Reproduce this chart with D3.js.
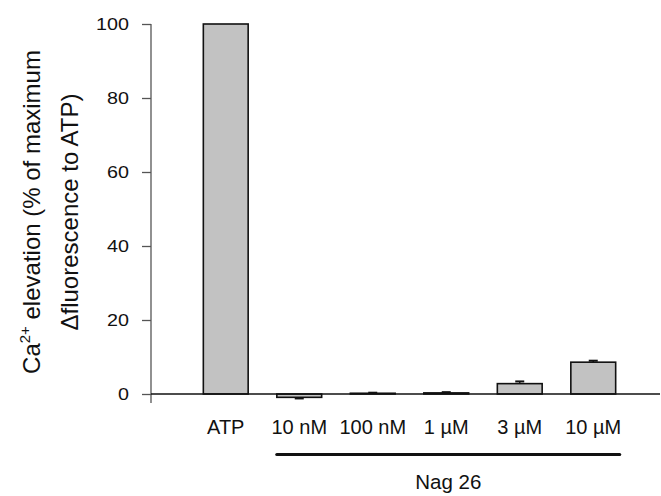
<!DOCTYPE html>
<html>
<head>
<meta charset="utf-8">
<script src="https://cdn.jsdelivr.net/npm/d3@7"></script>
<style>
  body { margin: 0; background: #fff; }
  svg { font-family: Arial, "Liberation Sans", sans-serif; }
</style>
</head>
<body>
<div class="svg-div"></div>
<script>
// values
var categories = ["ATP", "10 nM", "100 nM", "1 µM", "3 µM", "10 µM"]
var means = [100, -0.9, 0.2, 0.3, 2.8, 8.6]
var errs = [0, 0.3, 0.15, 0.2, 0.6, 0.4]
var yTicks = [0, 20, 40, 60, 80, 100]
var groupLabel = "Nag 26"
var groupMembers = ["10 nM", "100 nM", "1 µM", "3 µM", "10 µM"]

var width = 661, height = 496
var svg = d3.select(".svg-div").append("svg")
    .attr("width", width)
    .attr("height", height)

// the original text is a bit stretched sideways
function stretchText(sel, sx) {
    sel.each(function() {
        var t = d3.select(this)
        var x = +t.attr("x") || 0, y = +t.attr("y") || 0
        t.attr("transform", "translate(" + x + "," + y + ") scale(" + sx + ",1)")
            .attr("x", 0).attr("y", 0)
    })
}

var axisX = 151
var yScale = d3.scaleLinear().domain([0, 100]).range([394, 24])
var xScale = d3.scaleBand()
    .domain(categories)
    .range([189, 630])
    .paddingInner(0.39)
    .paddingOuter(0.195)

// y axis
var gy = svg.append("g").attr("transform", "translate(" + axisX + ",0)")
gy.call(d3.axisLeft(yScale).tickValues(yTicks).tickSize(9).tickPadding(13))
gy.select(".domain").remove()
gy.append("line")
    .attr("x1", 0).attr("x2", 0)
    .attr("y1", yScale(100)).attr("y2", yScale(0) + 9)
    .attr("stroke", "#555").attr("stroke-width", 1.3)
gy.selectAll(".tick line").attr("stroke", "#555").attr("stroke-width", 1.3)
var tickText = gy.selectAll(".tick text").attr("font-size", 17).attr("fill", "#111")
    .attr("font-family", "Arial, 'Liberation Sans', sans-serif")
stretchText(tickText, 1.16)

// bars
var bw = xScale.bandwidth()
svg.append("g").selectAll("rect")
    .data(categories)
    .join("rect")
    .attr("x", d => xScale(d))
    .attr("width", bw)
    .attr("y", (d, i) => Math.min(yScale(means[i]), yScale(0)))
    .attr("height", (d, i) => Math.abs(yScale(means[i]) - yScale(0)))
    .attr("fill", "#c2c2c2")
    .attr("stroke", "#111")
    .attr("stroke-width", 1.6)

// error bars (one-sided, away from zero)
var eg = svg.append("g").attr("stroke", "#111").attr("stroke-width", 1.4)
categories.forEach(function(c, i) {
    if (errs[i] <= 0) return
    var cx = xScale(c) + bw / 2
    var tip = means[i] >= 0 ? means[i] + errs[i] : means[i] - errs[i]
    eg.append("line").attr("x1", cx).attr("x2", cx)
        .attr("y1", yScale(means[i])).attr("y2", yScale(tip))
    eg.append("line").attr("x1", cx - 4.5).attr("x2", cx + 4.5)
        .attr("y1", yScale(tip)).attr("y2", yScale(tip))
        .attr("stroke-width", 2)
})

// x axis line
svg.append("line")
    .attr("x1", axisX).attr("x2", 660)
    .attr("y1", yScale(0)).attr("y2", yScale(0))
    .attr("stroke", "#111").attr("stroke-width", 1.6)

// category labels
svg.append("g").selectAll("text")
    .data(categories)
    .join("text")
    .attr("x", d => xScale(d) + bw / 2)
    .attr("y", 434)
    .attr("text-anchor", "middle")
    .attr("font-size", 20)
    .attr("fill", "#111")
    .text(d => d)

// group bracket
var gx1 = xScale(groupMembers[0]), gx2 = xScale(groupMembers[groupMembers.length - 1]) + bw
svg.append("line")
    .attr("x1", gx1).attr("x2", gx2 + 4)
    .attr("y1", 454.5).attr("y2", 454.5)
    .attr("stroke", "#111").attr("stroke-width", 3.2)
    .attr("stroke-linecap", "round")
svg.append("text")
    .attr("x", (gx1 + gx2) / 2 + 2)
    .attr("y", 489)
    .attr("text-anchor", "middle")
    .attr("font-size", 20.5)
    .attr("fill", "#111")
    .text(groupLabel)

// y label, two lines
var yl = svg.append("text")
    .attr("transform", "translate(0,212) rotate(-90)")
    .attr("text-anchor", "middle")
    .attr("font-size", 24)
    .attr("fill", "#111")
var l1 = yl.append("tspan").attr("x", 0).attr("y", 40)
l1.append("tspan").text("Ca")
l1.append("tspan").attr("font-size", 15).attr("dy", -10).text("2+")
l1.append("tspan").attr("dy", 10).text(" elevation (% of maximum")
yl.append("tspan").attr("x", 0).attr("y", 78).text("\u0394fluorescence to ATP)")
</script>
</body>
</html>
